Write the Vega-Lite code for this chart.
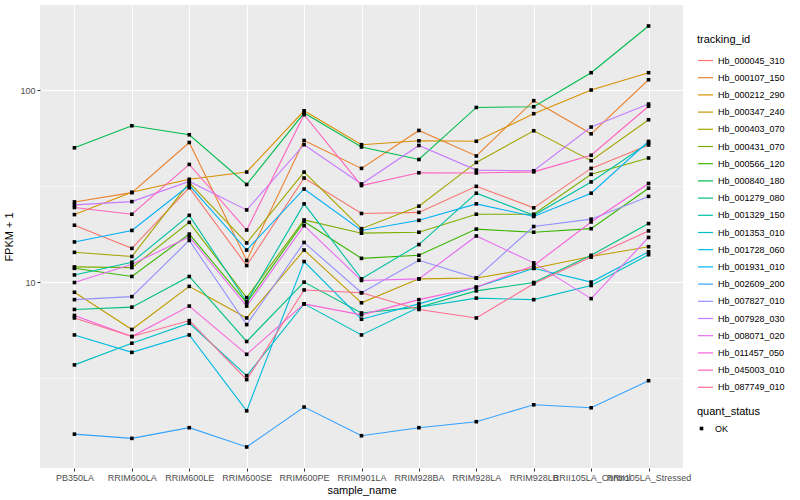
{
  "$schema": "https://vega.github.io/schema/vega-lite/v6.json",
  "width": 643,
  "height": 463,
  "autosize": {"type": "none"},
  "padding": {"left": 40, "top": 5, "right": 117, "bottom": 32},
  "background": "white",
  "datasets": {
    "expr": [
      {"tracking_id":"Hb_000045_310","sample_name":"PB350LA","fpkm_plus_1":19.8,"quant_status":"OK"},
      {"tracking_id":"Hb_000045_310","sample_name":"RRIM600LA","fpkm_plus_1":15.0,"quant_status":"OK"},
      {"tracking_id":"Hb_000045_310","sample_name":"RRIM600LE","fpkm_plus_1":31.1,"quant_status":"OK"},
      {"tracking_id":"Hb_000045_310","sample_name":"RRIM600SE","fpkm_plus_1":12.2,"quant_status":"OK"},
      {"tracking_id":"Hb_000045_310","sample_name":"RRIM600PE","fpkm_plus_1":34.9,"quant_status":"OK"},
      {"tracking_id":"Hb_000045_310","sample_name":"RRIM901LA","fpkm_plus_1":22.8,"quant_status":"OK"},
      {"tracking_id":"Hb_000045_310","sample_name":"RRIM928BA","fpkm_plus_1":23.1,"quant_status":"OK"},
      {"tracking_id":"Hb_000045_310","sample_name":"RRIM928LA","fpkm_plus_1":31.6,"quant_status":"OK"},
      {"tracking_id":"Hb_000045_310","sample_name":"RRIM928LB","fpkm_plus_1":24.4,"quant_status":"OK"},
      {"tracking_id":"Hb_000045_310","sample_name":"RRII105LA_Control","fpkm_plus_1":39.2,"quant_status":"OK"},
      {"tracking_id":"Hb_000045_310","sample_name":"RRII105LA_Stressed","fpkm_plus_1":51.9,"quant_status":"OK"},

      {"tracking_id":"Hb_000107_150","sample_name":"PB350LA","fpkm_plus_1":26.2,"quant_status":"OK"},
      {"tracking_id":"Hb_000107_150","sample_name":"RRIM600LA","fpkm_plus_1":29.3,"quant_status":"OK"},
      {"tracking_id":"Hb_000107_150","sample_name":"RRIM600LE","fpkm_plus_1":53.5,"quant_status":"OK"},
      {"tracking_id":"Hb_000107_150","sample_name":"RRIM600SE","fpkm_plus_1":12.96,"quant_status":"OK"},
      {"tracking_id":"Hb_000107_150","sample_name":"RRIM600PE","fpkm_plus_1":54.8,"quant_status":"OK"},
      {"tracking_id":"Hb_000107_150","sample_name":"RRIM901LA","fpkm_plus_1":39.2,"quant_status":"OK"},
      {"tracking_id":"Hb_000107_150","sample_name":"RRIM928BA","fpkm_plus_1":61.8,"quant_status":"OK"},
      {"tracking_id":"Hb_000107_150","sample_name":"RRIM928LA","fpkm_plus_1":45.5,"quant_status":"OK"},
      {"tracking_id":"Hb_000107_150","sample_name":"RRIM928LB","fpkm_plus_1":88.4,"quant_status":"OK"},
      {"tracking_id":"Hb_000107_150","sample_name":"RRII105LA_Control","fpkm_plus_1":59.4,"quant_status":"OK"},
      {"tracking_id":"Hb_000107_150","sample_name":"RRII105LA_Stressed","fpkm_plus_1":113.7,"quant_status":"OK"},

      {"tracking_id":"Hb_000212_290","sample_name":"PB350LA","fpkm_plus_1":22.5,"quant_status":"OK"},
      {"tracking_id":"Hb_000212_290","sample_name":"RRIM600LA","fpkm_plus_1":29.4,"quant_status":"OK"},
      {"tracking_id":"Hb_000212_290","sample_name":"RRIM600LE","fpkm_plus_1":34.4,"quant_status":"OK"},
      {"tracking_id":"Hb_000212_290","sample_name":"RRIM600SE","fpkm_plus_1":37.5,"quant_status":"OK"},
      {"tracking_id":"Hb_000212_290","sample_name":"RRIM600PE","fpkm_plus_1":78.3,"quant_status":"OK"},
      {"tracking_id":"Hb_000212_290","sample_name":"RRIM901LA","fpkm_plus_1":52.1,"quant_status":"OK"},
      {"tracking_id":"Hb_000212_290","sample_name":"RRIM928BA","fpkm_plus_1":54.6,"quant_status":"OK"},
      {"tracking_id":"Hb_000212_290","sample_name":"RRIM928LA","fpkm_plus_1":54.3,"quant_status":"OK"},
      {"tracking_id":"Hb_000212_290","sample_name":"RRIM928LB","fpkm_plus_1":75.6,"quant_status":"OK"},
      {"tracking_id":"Hb_000212_290","sample_name":"RRII105LA_Control","fpkm_plus_1":100.5,"quant_status":"OK"},
      {"tracking_id":"Hb_000212_290","sample_name":"RRII105LA_Stressed","fpkm_plus_1":123.7,"quant_status":"OK"},

      {"tracking_id":"Hb_000347_240","sample_name":"PB350LA","fpkm_plus_1":8.85,"quant_status":"OK"},
      {"tracking_id":"Hb_000347_240","sample_name":"RRIM600LA","fpkm_plus_1":5.66,"quant_status":"OK"},
      {"tracking_id":"Hb_000347_240","sample_name":"RRIM600LE","fpkm_plus_1":9.5,"quant_status":"OK"},
      {"tracking_id":"Hb_000347_240","sample_name":"RRIM600SE","fpkm_plus_1":6.5,"quant_status":"OK"},
      {"tracking_id":"Hb_000347_240","sample_name":"RRIM600PE","fpkm_plus_1":14.7,"quant_status":"OK"},
      {"tracking_id":"Hb_000347_240","sample_name":"RRIM901LA","fpkm_plus_1":7.8,"quant_status":"OK"},
      {"tracking_id":"Hb_000347_240","sample_name":"RRIM928BA","fpkm_plus_1":10.4,"quant_status":"OK"},
      {"tracking_id":"Hb_000347_240","sample_name":"RRIM928LA","fpkm_plus_1":10.5,"quant_status":"OK"},
      {"tracking_id":"Hb_000347_240","sample_name":"RRIM928LB","fpkm_plus_1":11.8,"quant_status":"OK"},
      {"tracking_id":"Hb_000347_240","sample_name":"RRII105LA_Control","fpkm_plus_1":13.6,"quant_status":"OK"},
      {"tracking_id":"Hb_000347_240","sample_name":"RRII105LA_Stressed","fpkm_plus_1":15.3,"quant_status":"OK"},

      {"tracking_id":"Hb_000403_070","sample_name":"PB350LA","fpkm_plus_1":14.3,"quant_status":"OK"},
      {"tracking_id":"Hb_000403_070","sample_name":"RRIM600LA","fpkm_plus_1":13.6,"quant_status":"OK"},
      {"tracking_id":"Hb_000403_070","sample_name":"RRIM600LE","fpkm_plus_1":33.0,"quant_status":"OK"},
      {"tracking_id":"Hb_000403_070","sample_name":"RRIM600SE","fpkm_plus_1":16.0,"quant_status":"OK"},
      {"tracking_id":"Hb_000403_070","sample_name":"RRIM600PE","fpkm_plus_1":37.5,"quant_status":"OK"},
      {"tracking_id":"Hb_000403_070","sample_name":"RRIM901LA","fpkm_plus_1":19.0,"quant_status":"OK"},
      {"tracking_id":"Hb_000403_070","sample_name":"RRIM928BA","fpkm_plus_1":24.9,"quant_status":"OK"},
      {"tracking_id":"Hb_000403_070","sample_name":"RRIM928LA","fpkm_plus_1":42.1,"quant_status":"OK"},
      {"tracking_id":"Hb_000403_070","sample_name":"RRIM928LB","fpkm_plus_1":61.6,"quant_status":"OK"},
      {"tracking_id":"Hb_000403_070","sample_name":"RRII105LA_Control","fpkm_plus_1":43.0,"quant_status":"OK"},
      {"tracking_id":"Hb_000403_070","sample_name":"RRII105LA_Stressed","fpkm_plus_1":70.3,"quant_status":"OK"},

      {"tracking_id":"Hb_000431_070","sample_name":"PB350LA","fpkm_plus_1":12.0,"quant_status":"OK"},
      {"tracking_id":"Hb_000431_070","sample_name":"RRIM600LA","fpkm_plus_1":11.9,"quant_status":"OK"},
      {"tracking_id":"Hb_000431_070","sample_name":"RRIM600LE","fpkm_plus_1":20.5,"quant_status":"OK"},
      {"tracking_id":"Hb_000431_070","sample_name":"RRIM600SE","fpkm_plus_1":8.3,"quant_status":"OK"},
      {"tracking_id":"Hb_000431_070","sample_name":"RRIM600PE","fpkm_plus_1":21.1,"quant_status":"OK"},
      {"tracking_id":"Hb_000431_070","sample_name":"RRIM901LA","fpkm_plus_1":18.0,"quant_status":"OK"},
      {"tracking_id":"Hb_000431_070","sample_name":"RRIM928BA","fpkm_plus_1":18.2,"quant_status":"OK"},
      {"tracking_id":"Hb_000431_070","sample_name":"RRIM928LA","fpkm_plus_1":22.6,"quant_status":"OK"},
      {"tracking_id":"Hb_000431_070","sample_name":"RRIM928LB","fpkm_plus_1":22.6,"quant_status":"OK"},
      {"tracking_id":"Hb_000431_070","sample_name":"RRII105LA_Control","fpkm_plus_1":36.5,"quant_status":"OK"},
      {"tracking_id":"Hb_000431_070","sample_name":"RRII105LA_Stressed","fpkm_plus_1":44.4,"quant_status":"OK"},

      {"tracking_id":"Hb_000566_120","sample_name":"PB350LA","fpkm_plus_1":11.8,"quant_status":"OK"},
      {"tracking_id":"Hb_000566_120","sample_name":"RRIM600LA","fpkm_plus_1":10.7,"quant_status":"OK"},
      {"tracking_id":"Hb_000566_120","sample_name":"RRIM600LE","fpkm_plus_1":17.8,"quant_status":"OK"},
      {"tracking_id":"Hb_000566_120","sample_name":"RRIM600SE","fpkm_plus_1":7.8,"quant_status":"OK"},
      {"tracking_id":"Hb_000566_120","sample_name":"RRIM600PE","fpkm_plus_1":20.7,"quant_status":"OK"},
      {"tracking_id":"Hb_000566_120","sample_name":"RRIM901LA","fpkm_plus_1":13.3,"quant_status":"OK"},
      {"tracking_id":"Hb_000566_120","sample_name":"RRIM928BA","fpkm_plus_1":13.8,"quant_status":"OK"},
      {"tracking_id":"Hb_000566_120","sample_name":"RRIM928LA","fpkm_plus_1":18.9,"quant_status":"OK"},
      {"tracking_id":"Hb_000566_120","sample_name":"RRIM928LB","fpkm_plus_1":18.2,"quant_status":"OK"},
      {"tracking_id":"Hb_000566_120","sample_name":"RRII105LA_Control","fpkm_plus_1":19.0,"quant_status":"OK"},
      {"tracking_id":"Hb_000566_120","sample_name":"RRII105LA_Stressed","fpkm_plus_1":30.9,"quant_status":"OK"},

      {"tracking_id":"Hb_000840_180","sample_name":"PB350LA","fpkm_plus_1":50.2,"quant_status":"OK"},
      {"tracking_id":"Hb_000840_180","sample_name":"RRIM600LA","fpkm_plus_1":65.4,"quant_status":"OK"},
      {"tracking_id":"Hb_000840_180","sample_name":"RRIM600LE","fpkm_plus_1":58.7,"quant_status":"OK"},
      {"tracking_id":"Hb_000840_180","sample_name":"RRIM600SE","fpkm_plus_1":32.3,"quant_status":"OK"},
      {"tracking_id":"Hb_000840_180","sample_name":"RRIM600PE","fpkm_plus_1":76.2,"quant_status":"OK"},
      {"tracking_id":"Hb_000840_180","sample_name":"RRIM901LA","fpkm_plus_1":50.7,"quant_status":"OK"},
      {"tracking_id":"Hb_000840_180","sample_name":"RRIM928BA","fpkm_plus_1":43.6,"quant_status":"OK"},
      {"tracking_id":"Hb_000840_180","sample_name":"RRIM928LA","fpkm_plus_1":81.5,"quant_status":"OK"},
      {"tracking_id":"Hb_000840_180","sample_name":"RRIM928LB","fpkm_plus_1":82.2,"quant_status":"OK"},
      {"tracking_id":"Hb_000840_180","sample_name":"RRII105LA_Control","fpkm_plus_1":123.7,"quant_status":"OK"},
      {"tracking_id":"Hb_000840_180","sample_name":"RRII105LA_Stressed","fpkm_plus_1":216.8,"quant_status":"OK"},

      {"tracking_id":"Hb_001279_080","sample_name":"PB350LA","fpkm_plus_1":7.2,"quant_status":"OK"},
      {"tracking_id":"Hb_001279_080","sample_name":"RRIM600LA","fpkm_plus_1":7.4,"quant_status":"OK"},
      {"tracking_id":"Hb_001279_080","sample_name":"RRIM600LE","fpkm_plus_1":10.7,"quant_status":"OK"},
      {"tracking_id":"Hb_001279_080","sample_name":"RRIM600SE","fpkm_plus_1":4.9,"quant_status":"OK"},
      {"tracking_id":"Hb_001279_080","sample_name":"RRIM600PE","fpkm_plus_1":10.0,"quant_status":"OK"},
      {"tracking_id":"Hb_001279_080","sample_name":"RRIM901LA","fpkm_plus_1":6.9,"quant_status":"OK"},
      {"tracking_id":"Hb_001279_080","sample_name":"RRIM928BA","fpkm_plus_1":7.4,"quant_status":"OK"},
      {"tracking_id":"Hb_001279_080","sample_name":"RRIM928LA","fpkm_plus_1":9.0,"quant_status":"OK"},
      {"tracking_id":"Hb_001279_080","sample_name":"RRIM928LB","fpkm_plus_1":9.95,"quant_status":"OK"},
      {"tracking_id":"Hb_001279_080","sample_name":"RRII105LA_Control","fpkm_plus_1":13.8,"quant_status":"OK"},
      {"tracking_id":"Hb_001279_080","sample_name":"RRII105LA_Stressed","fpkm_plus_1":20.2,"quant_status":"OK"},

      {"tracking_id":"Hb_001329_150","sample_name":"PB350LA","fpkm_plus_1":10.9,"quant_status":"OK"},
      {"tracking_id":"Hb_001329_150","sample_name":"RRIM600LA","fpkm_plus_1":12.7,"quant_status":"OK"},
      {"tracking_id":"Hb_001329_150","sample_name":"RRIM600LE","fpkm_plus_1":22.3,"quant_status":"OK"},
      {"tracking_id":"Hb_001329_150","sample_name":"RRIM600SE","fpkm_plus_1":7.9,"quant_status":"OK"},
      {"tracking_id":"Hb_001329_150","sample_name":"RRIM600PE","fpkm_plus_1":25.6,"quant_status":"OK"},
      {"tracking_id":"Hb_001329_150","sample_name":"RRIM901LA","fpkm_plus_1":10.4,"quant_status":"OK"},
      {"tracking_id":"Hb_001329_150","sample_name":"RRIM928BA","fpkm_plus_1":15.7,"quant_status":"OK"},
      {"tracking_id":"Hb_001329_150","sample_name":"RRIM928LA","fpkm_plus_1":29.1,"quant_status":"OK"},
      {"tracking_id":"Hb_001329_150","sample_name":"RRIM928LB","fpkm_plus_1":22.3,"quant_status":"OK"},
      {"tracking_id":"Hb_001329_150","sample_name":"RRII105LA_Control","fpkm_plus_1":33.3,"quant_status":"OK"},
      {"tracking_id":"Hb_001329_150","sample_name":"RRII105LA_Stressed","fpkm_plus_1":53.2,"quant_status":"OK"},

      {"tracking_id":"Hb_001353_010","sample_name":"PB350LA","fpkm_plus_1":3.7,"quant_status":"OK"},
      {"tracking_id":"Hb_001353_010","sample_name":"RRIM600LA","fpkm_plus_1":4.8,"quant_status":"OK"},
      {"tracking_id":"Hb_001353_010","sample_name":"RRIM600LE","fpkm_plus_1":6.1,"quant_status":"OK"},
      {"tracking_id":"Hb_001353_010","sample_name":"RRIM600SE","fpkm_plus_1":3.25,"quant_status":"OK"},
      {"tracking_id":"Hb_001353_010","sample_name":"RRIM600PE","fpkm_plus_1":7.7,"quant_status":"OK"},
      {"tracking_id":"Hb_001353_010","sample_name":"RRIM901LA","fpkm_plus_1":5.3,"quant_status":"OK"},
      {"tracking_id":"Hb_001353_010","sample_name":"RRIM928BA","fpkm_plus_1":7.4,"quant_status":"OK"},
      {"tracking_id":"Hb_001353_010","sample_name":"RRIM928LA","fpkm_plus_1":8.25,"quant_status":"OK"},
      {"tracking_id":"Hb_001353_010","sample_name":"RRIM928LB","fpkm_plus_1":8.1,"quant_status":"OK"},
      {"tracking_id":"Hb_001353_010","sample_name":"RRII105LA_Control","fpkm_plus_1":9.6,"quant_status":"OK"},
      {"tracking_id":"Hb_001353_010","sample_name":"RRII105LA_Stressed","fpkm_plus_1":13.9,"quant_status":"OK"},

      {"tracking_id":"Hb_001728_060","sample_name":"PB350LA","fpkm_plus_1":5.3,"quant_status":"OK"},
      {"tracking_id":"Hb_001728_060","sample_name":"RRIM600LA","fpkm_plus_1":4.3,"quant_status":"OK"},
      {"tracking_id":"Hb_001728_060","sample_name":"RRIM600LE","fpkm_plus_1":5.3,"quant_status":"OK"},
      {"tracking_id":"Hb_001728_060","sample_name":"RRIM600SE","fpkm_plus_1":2.13,"quant_status":"OK"},
      {"tracking_id":"Hb_001728_060","sample_name":"RRIM600PE","fpkm_plus_1":12.8,"quant_status":"OK"},
      {"tracking_id":"Hb_001728_060","sample_name":"RRIM901LA","fpkm_plus_1":6.4,"quant_status":"OK"},
      {"tracking_id":"Hb_001728_060","sample_name":"RRIM928BA","fpkm_plus_1":7.7,"quant_status":"OK"},
      {"tracking_id":"Hb_001728_060","sample_name":"RRIM928LA","fpkm_plus_1":9.4,"quant_status":"OK"},
      {"tracking_id":"Hb_001728_060","sample_name":"RRIM928LB","fpkm_plus_1":11.8,"quant_status":"OK"},
      {"tracking_id":"Hb_001728_060","sample_name":"RRII105LA_Control","fpkm_plus_1":10.0,"quant_status":"OK"},
      {"tracking_id":"Hb_001728_060","sample_name":"RRII105LA_Stressed","fpkm_plus_1":14.4,"quant_status":"OK"},

      {"tracking_id":"Hb_001931_010","sample_name":"PB350LA","fpkm_plus_1":16.2,"quant_status":"OK"},
      {"tracking_id":"Hb_001931_010","sample_name":"RRIM600LA","fpkm_plus_1":18.6,"quant_status":"OK"},
      {"tracking_id":"Hb_001931_010","sample_name":"RRIM600LE","fpkm_plus_1":32.0,"quant_status":"OK"},
      {"tracking_id":"Hb_001931_010","sample_name":"RRIM600SE","fpkm_plus_1":14.7,"quant_status":"OK"},
      {"tracking_id":"Hb_001931_010","sample_name":"RRIM600PE","fpkm_plus_1":30.6,"quant_status":"OK"},
      {"tracking_id":"Hb_001931_010","sample_name":"RRIM901LA","fpkm_plus_1":18.6,"quant_status":"OK"},
      {"tracking_id":"Hb_001931_010","sample_name":"RRIM928BA","fpkm_plus_1":21.0,"quant_status":"OK"},
      {"tracking_id":"Hb_001931_010","sample_name":"RRIM928LA","fpkm_plus_1":25.6,"quant_status":"OK"},
      {"tracking_id":"Hb_001931_010","sample_name":"RRIM928LB","fpkm_plus_1":22.0,"quant_status":"OK"},
      {"tracking_id":"Hb_001931_010","sample_name":"RRII105LA_Control","fpkm_plus_1":29.1,"quant_status":"OK"},
      {"tracking_id":"Hb_001931_010","sample_name":"RRII105LA_Stressed","fpkm_plus_1":54.2,"quant_status":"OK"},

      {"tracking_id":"Hb_002609_200","sample_name":"PB350LA","fpkm_plus_1":1.61,"quant_status":"OK"},
      {"tracking_id":"Hb_002609_200","sample_name":"RRIM600LA","fpkm_plus_1":1.53,"quant_status":"OK"},
      {"tracking_id":"Hb_002609_200","sample_name":"RRIM600LE","fpkm_plus_1":1.74,"quant_status":"OK"},
      {"tracking_id":"Hb_002609_200","sample_name":"RRIM600SE","fpkm_plus_1":1.38,"quant_status":"OK"},
      {"tracking_id":"Hb_002609_200","sample_name":"RRIM600PE","fpkm_plus_1":2.23,"quant_status":"OK"},
      {"tracking_id":"Hb_002609_200","sample_name":"RRIM901LA","fpkm_plus_1":1.58,"quant_status":"OK"},
      {"tracking_id":"Hb_002609_200","sample_name":"RRIM928BA","fpkm_plus_1":1.74,"quant_status":"OK"},
      {"tracking_id":"Hb_002609_200","sample_name":"RRIM928LA","fpkm_plus_1":1.87,"quant_status":"OK"},
      {"tracking_id":"Hb_002609_200","sample_name":"RRIM928LB","fpkm_plus_1":2.29,"quant_status":"OK"},
      {"tracking_id":"Hb_002609_200","sample_name":"RRII105LA_Control","fpkm_plus_1":2.21,"quant_status":"OK"},
      {"tracking_id":"Hb_002609_200","sample_name":"RRII105LA_Stressed","fpkm_plus_1":3.06,"quant_status":"OK"},

      {"tracking_id":"Hb_007827_010","sample_name":"PB350LA","fpkm_plus_1":8.1,"quant_status":"OK"},
      {"tracking_id":"Hb_007827_010","sample_name":"RRIM600LA","fpkm_plus_1":8.4,"quant_status":"OK"},
      {"tracking_id":"Hb_007827_010","sample_name":"RRIM600LE","fpkm_plus_1":16.5,"quant_status":"OK"},
      {"tracking_id":"Hb_007827_010","sample_name":"RRIM600SE","fpkm_plus_1":6.0,"quant_status":"OK"},
      {"tracking_id":"Hb_007827_010","sample_name":"RRIM600PE","fpkm_plus_1":16.1,"quant_status":"OK"},
      {"tracking_id":"Hb_007827_010","sample_name":"RRIM901LA","fpkm_plus_1":8.8,"quant_status":"OK"},
      {"tracking_id":"Hb_007827_010","sample_name":"RRIM928BA","fpkm_plus_1":13.0,"quant_status":"OK"},
      {"tracking_id":"Hb_007827_010","sample_name":"RRIM928LA","fpkm_plus_1":10.5,"quant_status":"OK"},
      {"tracking_id":"Hb_007827_010","sample_name":"RRIM928LB","fpkm_plus_1":19.5,"quant_status":"OK"},
      {"tracking_id":"Hb_007827_010","sample_name":"RRII105LA_Control","fpkm_plus_1":21.3,"quant_status":"OK"},
      {"tracking_id":"Hb_007827_010","sample_name":"RRII105LA_Stressed","fpkm_plus_1":28.0,"quant_status":"OK"},

      {"tracking_id":"Hb_007928_030","sample_name":"PB350LA","fpkm_plus_1":25.3,"quant_status":"OK"},
      {"tracking_id":"Hb_007928_030","sample_name":"RRIM600LA","fpkm_plus_1":26.3,"quant_status":"OK"},
      {"tracking_id":"Hb_007928_030","sample_name":"RRIM600LE","fpkm_plus_1":33.5,"quant_status":"OK"},
      {"tracking_id":"Hb_007928_030","sample_name":"RRIM600SE","fpkm_plus_1":23.8,"quant_status":"OK"},
      {"tracking_id":"Hb_007928_030","sample_name":"RRIM600PE","fpkm_plus_1":52.1,"quant_status":"OK"},
      {"tracking_id":"Hb_007928_030","sample_name":"RRIM901LA","fpkm_plus_1":32.5,"quant_status":"OK"},
      {"tracking_id":"Hb_007928_030","sample_name":"RRIM928BA","fpkm_plus_1":51.6,"quant_status":"OK"},
      {"tracking_id":"Hb_007928_030","sample_name":"RRIM928LA","fpkm_plus_1":38.4,"quant_status":"OK"},
      {"tracking_id":"Hb_007928_030","sample_name":"RRIM928LB","fpkm_plus_1":38.1,"quant_status":"OK"},
      {"tracking_id":"Hb_007928_030","sample_name":"RRII105LA_Control","fpkm_plus_1":64.4,"quant_status":"OK"},
      {"tracking_id":"Hb_007928_030","sample_name":"RRII105LA_Stressed","fpkm_plus_1":84.9,"quant_status":"OK"},

      {"tracking_id":"Hb_008071_020","sample_name":"PB350LA","fpkm_plus_1":9.95,"quant_status":"OK"},
      {"tracking_id":"Hb_008071_020","sample_name":"RRIM600LA","fpkm_plus_1":12.4,"quant_status":"OK"},
      {"tracking_id":"Hb_008071_020","sample_name":"RRIM600LE","fpkm_plus_1":17.2,"quant_status":"OK"},
      {"tracking_id":"Hb_008071_020","sample_name":"RRIM600SE","fpkm_plus_1":7.5,"quant_status":"OK"},
      {"tracking_id":"Hb_008071_020","sample_name":"RRIM600PE","fpkm_plus_1":19.7,"quant_status":"OK"},
      {"tracking_id":"Hb_008071_020","sample_name":"RRIM901LA","fpkm_plus_1":10.2,"quant_status":"OK"},
      {"tracking_id":"Hb_008071_020","sample_name":"RRIM928BA","fpkm_plus_1":10.4,"quant_status":"OK"},
      {"tracking_id":"Hb_008071_020","sample_name":"RRIM928LA","fpkm_plus_1":17.4,"quant_status":"OK"},
      {"tracking_id":"Hb_008071_020","sample_name":"RRIM928LB","fpkm_plus_1":12.6,"quant_status":"OK"},
      {"tracking_id":"Hb_008071_020","sample_name":"RRII105LA_Control","fpkm_plus_1":8.2,"quant_status":"OK"},
      {"tracking_id":"Hb_008071_020","sample_name":"RRII105LA_Stressed","fpkm_plus_1":17.1,"quant_status":"OK"},

      {"tracking_id":"Hb_011457_050","sample_name":"PB350LA","fpkm_plus_1":6.7,"quant_status":"OK"},
      {"tracking_id":"Hb_011457_050","sample_name":"RRIM600LA","fpkm_plus_1":5.2,"quant_status":"OK"},
      {"tracking_id":"Hb_011457_050","sample_name":"RRIM600LE","fpkm_plus_1":7.5,"quant_status":"OK"},
      {"tracking_id":"Hb_011457_050","sample_name":"RRIM600SE","fpkm_plus_1":4.2,"quant_status":"OK"},
      {"tracking_id":"Hb_011457_050","sample_name":"RRIM600PE","fpkm_plus_1":7.7,"quant_status":"OK"},
      {"tracking_id":"Hb_011457_050","sample_name":"RRIM901LA","fpkm_plus_1":6.75,"quant_status":"OK"},
      {"tracking_id":"Hb_011457_050","sample_name":"RRIM928BA","fpkm_plus_1":8.1,"quant_status":"OK"},
      {"tracking_id":"Hb_011457_050","sample_name":"RRIM928LA","fpkm_plus_1":9.4,"quant_status":"OK"},
      {"tracking_id":"Hb_011457_050","sample_name":"RRIM928LB","fpkm_plus_1":12.2,"quant_status":"OK"},
      {"tracking_id":"Hb_011457_050","sample_name":"RRII105LA_Control","fpkm_plus_1":20.6,"quant_status":"OK"},
      {"tracking_id":"Hb_011457_050","sample_name":"RRII105LA_Stressed","fpkm_plus_1":32.7,"quant_status":"OK"},

      {"tracking_id":"Hb_045003_010","sample_name":"PB350LA","fpkm_plus_1":24.5,"quant_status":"OK"},
      {"tracking_id":"Hb_045003_010","sample_name":"RRIM600LA","fpkm_plus_1":22.6,"quant_status":"OK"},
      {"tracking_id":"Hb_045003_010","sample_name":"RRIM600LE","fpkm_plus_1":41.1,"quant_status":"OK"},
      {"tracking_id":"Hb_045003_010","sample_name":"RRIM600SE","fpkm_plus_1":18.7,"quant_status":"OK"},
      {"tracking_id":"Hb_045003_010","sample_name":"RRIM600PE","fpkm_plus_1":74.7,"quant_status":"OK"},
      {"tracking_id":"Hb_045003_010","sample_name":"RRIM901LA","fpkm_plus_1":31.9,"quant_status":"OK"},
      {"tracking_id":"Hb_045003_010","sample_name":"RRIM928BA","fpkm_plus_1":37.2,"quant_status":"OK"},
      {"tracking_id":"Hb_045003_010","sample_name":"RRIM928LA","fpkm_plus_1":37.1,"quant_status":"OK"},
      {"tracking_id":"Hb_045003_010","sample_name":"RRIM928LB","fpkm_plus_1":37.6,"quant_status":"OK"},
      {"tracking_id":"Hb_045003_010","sample_name":"RRII105LA_Control","fpkm_plus_1":45.9,"quant_status":"OK"},
      {"tracking_id":"Hb_045003_010","sample_name":"RRII105LA_Stressed","fpkm_plus_1":82.7,"quant_status":"OK"},

      {"tracking_id":"Hb_087749_010","sample_name":"PB350LA","fpkm_plus_1":6.5,"quant_status":"OK"},
      {"tracking_id":"Hb_087749_010","sample_name":"RRIM600LA","fpkm_plus_1":5.2,"quant_status":"OK"},
      {"tracking_id":"Hb_087749_010","sample_name":"RRIM600LE","fpkm_plus_1":6.3,"quant_status":"OK"},
      {"tracking_id":"Hb_087749_010","sample_name":"RRIM600SE","fpkm_plus_1":3.1,"quant_status":"OK"},
      {"tracking_id":"Hb_087749_010","sample_name":"RRIM600PE","fpkm_plus_1":9.1,"quant_status":"OK"},
      {"tracking_id":"Hb_087749_010","sample_name":"RRIM901LA","fpkm_plus_1":8.8,"quant_status":"OK"},
      {"tracking_id":"Hb_087749_010","sample_name":"RRIM928BA","fpkm_plus_1":7.2,"quant_status":"OK"},
      {"tracking_id":"Hb_087749_010","sample_name":"RRIM928LA","fpkm_plus_1":6.5,"quant_status":"OK"},
      {"tracking_id":"Hb_087749_010","sample_name":"RRIM928LB","fpkm_plus_1":9.8,"quant_status":"OK"},
      {"tracking_id":"Hb_087749_010","sample_name":"RRII105LA_Control","fpkm_plus_1":13.5,"quant_status":"OK"},
      {"tracking_id":"Hb_087749_010","sample_name":"RRII105LA_Stressed","fpkm_plus_1":18.5,"quant_status":"OK"}
    ]
  },
  "data": {"name": "expr"},
  "encoding": {
    "x": {
      "field": "sample_name",
      "type": "nominal",
      "sort": ["PB350LA","RRIM600LA","RRIM600LE","RRIM600SE","RRIM600PE","RRIM901LA","RRIM928BA","RRIM928LA","RRIM928LB","RRII105LA_Control","RRII105LA_Stressed"],
      "scale": {"type": "point", "padding": 0.6},
      "axis": {
        "title": "sample_name",
        "labelAngle": 0,
        "labelOverlap": false,
        "labelFlush": false,
        "labelBound": false,
        "gridWidth": 1.1,
        "titlePadding": 2
      }
    },
    "y": {
      "field": "fpkm_plus_1",
      "type": "quantitative",
      "scale": {"type": "log", "domain": [1.072, 279], "nice": false, "zero": false},
      "axis": {
        "title": "FPKM + 1",
        "values": [3.1623, 10, 31.623, 100],
        "labelExpr": "datum.value == 10 ? '10' : (datum.value == 100 ? '100' : '')",
        "gridWidth": {"condition": {"test": "datum.value == 10 || datum.value == 100", "value": 1.1}, "value": 0.55},
        "tickColor": {"condition": {"test": "datum.value == 10 || datum.value == 100", "value": "#333333"}, "value": "rgba(0,0,0,0)"},
        "titlePadding": 5
      }
    }
  },
  "layer": [
    {
      "mark": {"type": "line", "strokeWidth": 1.1},
      "encoding": {
        "color": {
          "field": "tracking_id",
          "type": "nominal",
          "scale": {
            "domain": ["Hb_000045_310","Hb_000107_150","Hb_000212_290","Hb_000347_240","Hb_000403_070","Hb_000431_070","Hb_000566_120","Hb_000840_180","Hb_001279_080","Hb_001329_150","Hb_001353_010","Hb_001728_060","Hb_001931_010","Hb_002609_200","Hb_007827_010","Hb_007928_030","Hb_008071_020","Hb_011457_050","Hb_045003_010","Hb_087749_010"],
            "range": ["#F8766D","#EA8331","#D89000","#C09B00","#A3A500","#7CAE00","#39B600","#00BB4E","#00BF7D","#00C1A3","#00BFC4","#00BAE0","#00B0F6","#35A2FF","#9590FF","#C77CFF","#E76BF3","#FA62DB","#FF62BC","#FF6C90"]
          },
          "legend": {
            "title": "tracking_id",
            "orient": "none",
            "legendX": 657,
            "legendY": 29,
            "symbolType": "stroke",
            "symbolSize": 225,
            "symbolStrokeWidth": 1.2,
            "labelFontSize": 9,
            "labelColor": "black",
            "titleFontSize": 11,
            "titleFontWeight": "normal",
            "titleColor": "black",
            "rowPadding": 3.2,
            "labelOffset": 4,
            "titlePadding": 7
          }
        }
      }
    },
    {
      "mark": {"type": "point", "filled": true, "color": "black", "size": 13, "opacity": 1},
      "encoding": {
        "shape": {
          "field": "quant_status",
          "type": "nominal",
          "scale": {"range": ["square"]},
          "legend": {
            "title": "quant_status",
            "orient": "none",
            "legendX": 657,
            "legendY": 401,
            "symbolSize": 13,
            "symbolFillColor": "black",
            "symbolStrokeColor": "black",
            "labelFontSize": 9,
            "labelColor": "black",
            "titleFontSize": 11,
            "titleFontWeight": "normal",
            "titleColor": "black",
            "labelOffset": 9,
            "titlePadding": 7
          }
        }
      }
    }
  ],
  "config": {
    "font": "Liberation Sans",
    "view": {"fill": "#EBEBEB", "stroke": null},
    "axis": {
      "domain": false,
      "grid": true,
      "gridColor": "white",
      "tickColor": "#333333",
      "tickSize": 3,
      "labelColor": "#4D4D4D",
      "labelFontSize": 9,
      "labelPadding": 2,
      "titleFontSize": 11,
      "titleFontWeight": "normal",
      "titleColor": "black"
    }
  }
}
